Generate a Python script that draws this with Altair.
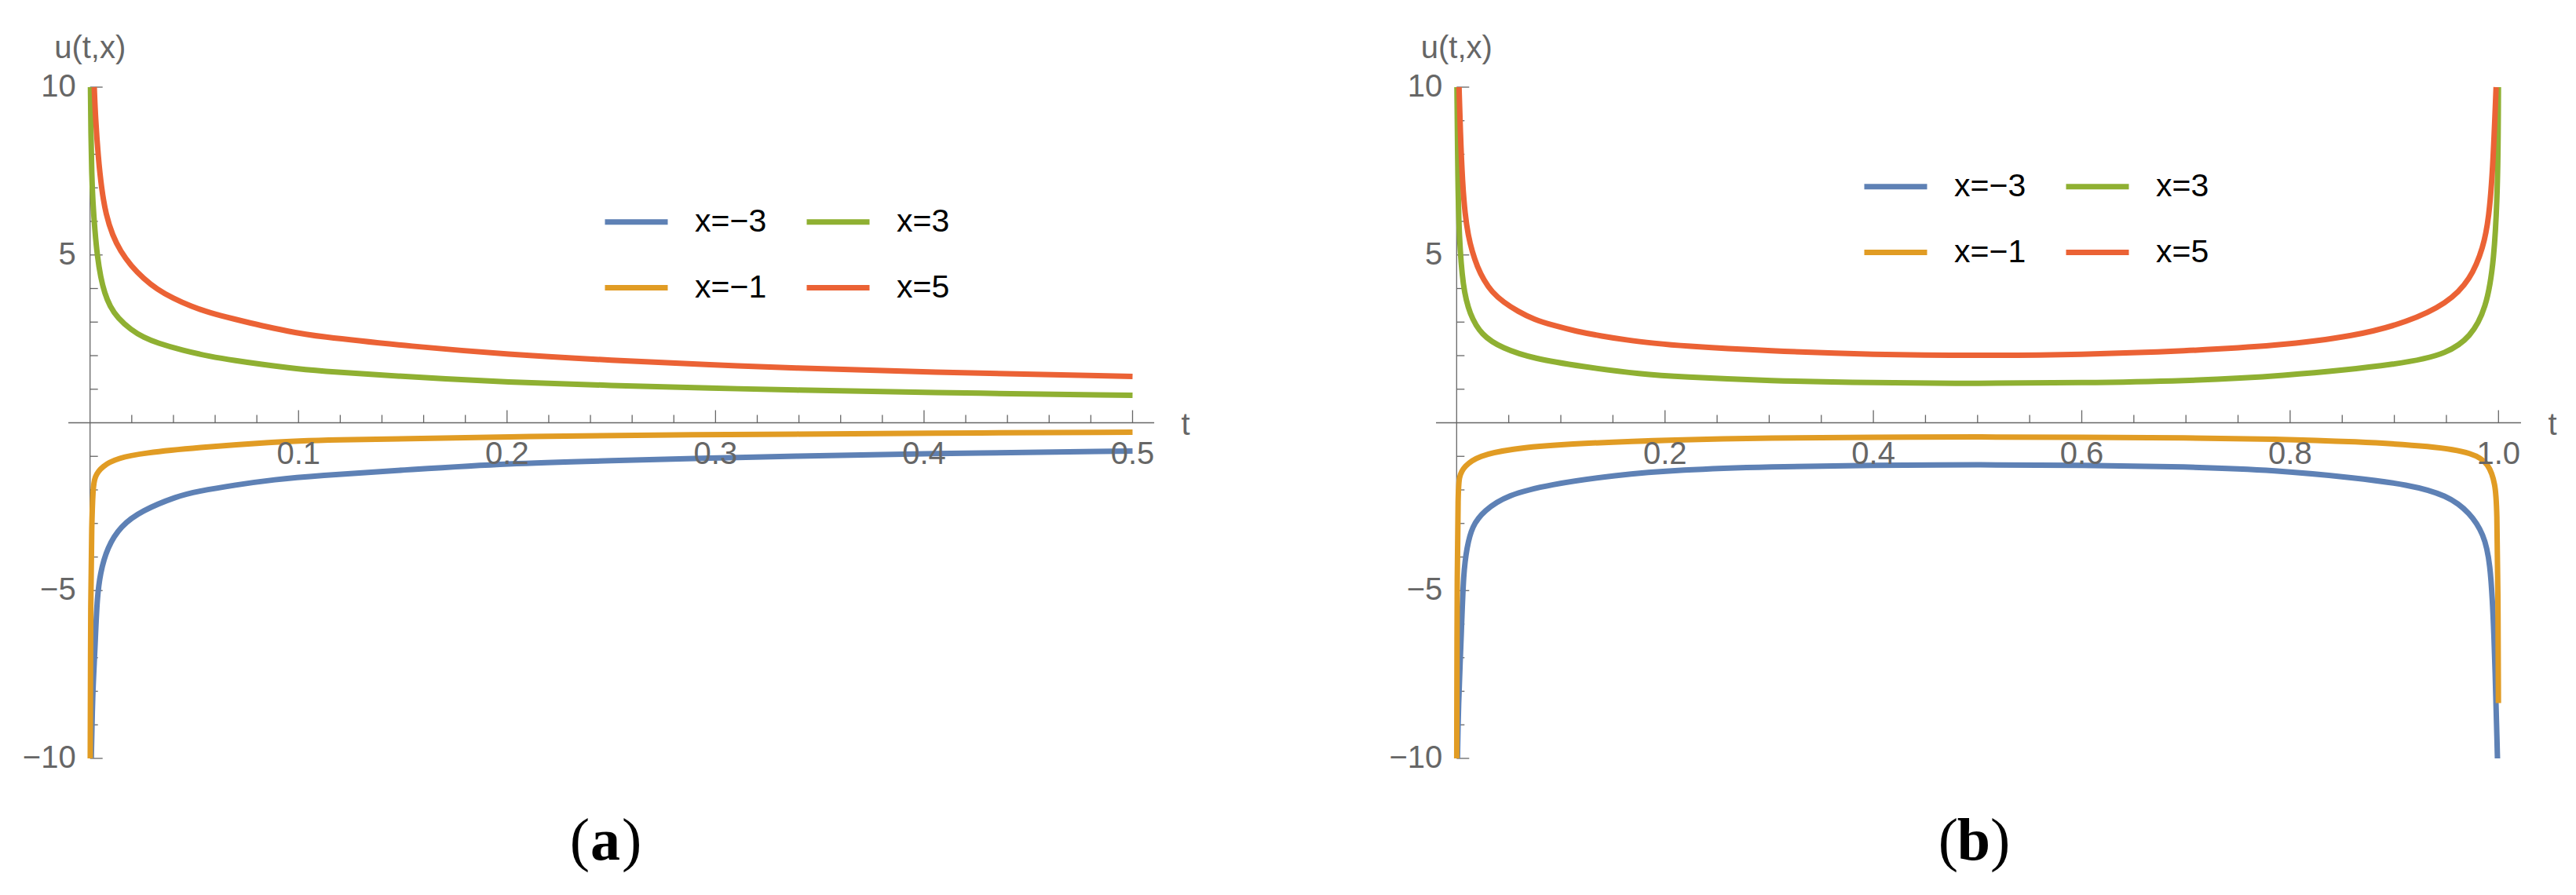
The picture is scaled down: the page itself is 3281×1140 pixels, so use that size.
import altair as alt
import pandas as pd

FONT = "Liberation Sans"
SERIF = "Liberation Serif"
GREY = "#666666"

SERIES = ["x=−3", "x=3", "x=−1", "x=5"]          # legend order (row-wise, 2 columns)
COLORS = ["#5E81B5", "#8FB032", "#E19C24", "#EB6235"]

# ---------------- panel (a): 0 <= t <= 0.5 ----------------
A_T_BLUE = [0.0006, 0.0012, 0.0023, 0.0033, 0.0048, 0.0083, 0.0146, 0.0246, 0.0422, 0.051, 0.0698, 0.0886,
            0.1075, 0.155, 0.2, 0.25, 0.3, 0.3334, 0.4, 0.5]
A_U_BLUE = [-10.0, -8.1, -6.83, -5.27, -4.49, -3.71, -3.08, -2.62, -2.18, -2.05, -1.85, -1.69,
            -1.58, -1.39, -1.21, -1.13, -1.05, -1.00, -0.92, -0.84]

A_T_ORANGE = [0.0001, 0.0003, 0.0008, 0.0014, 0.0021, 0.0058, 0.0133, 0.0258, 0.051, 0.0886, 0.1075,
              0.2, 0.3, 0.3334, 0.4, 0.5]
A_U_ORANGE = [-10.0, -5.0, -3.0, -1.99, -1.60, -1.29, -1.05, -0.90, -0.74, -0.57, -0.52,
              -0.41, -0.35, -0.34, -0.31, -0.28]

A_T_GREEN = [0.0002, 0.0004, 0.0008, 0.0014, 0.0023, 0.0035, 0.0051, 0.0070, 0.0095, 0.0133, 0.0196,
             0.0258, 0.0321, 0.0447, 0.0572, 0.0698, 0.0823, 0.0949, 0.1074,
             0.155, 0.2, 0.25, 0.3, 0.3334, 0.4, 0.5]
A_U_GREEN = [10.0, 8.70, 7.37, 6.51, 5.74, 4.95, 4.33, 3.86, 3.47, 3.12, 2.77,
             2.54, 2.38, 2.15, 1.98, 1.85, 1.74, 1.64, 1.55,
             1.36, 1.21, 1.11, 1.03, 0.98, 0.90, 0.82]

A_T_RED = [0.0020, 0.0026, 0.0039, 0.0055, 0.0076, 0.0108, 0.0146, 0.0196, 0.0258, 0.0321, 0.0397,
           0.0484, 0.0572, 0.0698, 0.0823, 0.0949, 0.1074,
           0.155, 0.2, 0.25, 0.3, 0.3334, 0.4, 0.5]
A_U_RED = [10.0, 9.09, 7.92, 6.98, 6.20, 5.58, 5.11, 4.68, 4.29, 3.98, 3.71,
           3.47, 3.28, 3.08, 2.89, 2.73, 2.58,
           2.27, 2.04, 1.86, 1.72, 1.64, 1.51, 1.38]

# ---------------- panel (b): 0 <= t <= 1 ----------------
B_T_BLUE = [0.0008, 0.0015, 0.0048, 0.0065, 0.0098, 0.0148, 0.0261, 0.0487, 0.0889, 0.1518, 0.2145,
            0.3, 0.4, 0.5, 0.6, 0.7, 0.787, 0.8627, 0.913, 0.9506, 0.973, 0.9857, 0.992, 0.9957, 0.9990]
B_U_BLUE = [-10.0, -8.55, -6.05, -4.49, -3.71, -3.08, -2.62, -2.15, -1.84, -1.56, -1.40,
            -1.31, -1.26, -1.25, -1.26, -1.31, -1.41, -1.64, -1.84, -2.15, -2.69, -3.32, -4.10, -6.05, -10.0]

B_T_ORANGE = [0.0001, 0.0005, 0.0015, 0.0020, 0.0073, 0.0211, 0.0513, 0.1015, 0.2145,
              0.3, 0.4, 0.5, 0.6, 0.7, 0.787, 0.8627, 0.938, 0.976, 0.9907, 0.997, 0.9985, 0.9995, 0.9999]
B_U_ORANGE = [-10.0, -4.0, -2.15, -1.60, -1.29, -0.98, -0.78, -0.63, -0.50,
              -0.45, -0.43, -0.42, -0.43, -0.45, -0.48, -0.56, -0.70, -0.90, -1.21, -1.84, -2.5, -5.0, -8.35]

B_T_GREEN = [0.0003, 0.0012, 0.0023, 0.0060, 0.0124, 0.0237, 0.0437, 0.0739, 0.1190, 0.1790, 0.2145,
             0.3, 0.4, 0.5, 0.6, 0.7, 0.787, 0.913, 0.9506, 0.973, 0.9882, 0.9958, 0.9995, 0.9999]
B_U_GREEN = [10.0, 7.14, 5.58, 4.02, 3.24, 2.61, 2.22, 1.91, 1.68, 1.44, 1.37,
             1.25, 1.19, 1.17, 1.19, 1.25, 1.37, 1.76, 2.07, 2.54, 3.40, 4.80, 7.14, 10.0]

B_T_RED = [0.0023, 0.0035, 0.0056, 0.0081, 0.0111, 0.0148, 0.0199, 0.0261, 0.0337, 0.0450, 0.0588,
           0.0739, 0.0940, 0.1141, 0.1392, 0.1643, 0.1895, 0.2145,
           0.3, 0.4, 0.5, 0.6, 0.7, 0.787, 0.8627, 0.913, 0.9506, 0.973, 0.9857, 0.9907, 0.9945, 0.9977]
B_U_RED = [10.0, 8.70, 7.14, 6.20, 5.58, 5.11, 4.64, 4.25, 3.90, 3.59, 3.32,
           3.08, 2.89, 2.73, 2.58, 2.46, 2.37, 2.29,
           2.14, 2.03, 2.00, 2.03, 2.14, 2.29, 2.58, 3.00, 3.55, 4.25, 5.25, 6.10, 7.50, 10.0]

# ---------------- ticks ----------------
A_MAJOR_T = [0.1, 0.2, 0.3, 0.4, 0.5]
A_MAJOR_LBL = ["0.1", "0.2", "0.3", "0.4", "0.5"]
A_MINOR_T = [0.02, 0.04, 0.06, 0.08, 0.12, 0.14, 0.16, 0.18, 0.22, 0.24, 0.26, 0.28,
             0.32, 0.34, 0.36, 0.38, 0.42, 0.44, 0.46, 0.48]
B_MAJOR_T = [0.2, 0.4, 0.6, 0.8, 1.0]
B_MAJOR_LBL = ["0.2", "0.4", "0.6", "0.8", "1.0"]
B_MINOR_T = [0.05, 0.1, 0.15, 0.25, 0.3, 0.35, 0.45, 0.5, 0.55, 0.65, 0.7, 0.75, 0.85, 0.9, 0.95]
Y_MAJOR = [-10, -5, 5, 10]
Y_MAJOR_LBL = ["−10", "−5", "5", "10"]
Y_MINOR = [-9, -8, -7, -6, -4, -3, -2, -1, 1, 2, 3, 4, 6, 7, 8, 9]

A_XAXIS = [-0.0104, 0.5104]
B_XAXIS = [-0.0198, 1.0216]
Y_AXIS = [-10, 10]

# view windows (data units covered by each panel's plot area)
A_XDOM = [-0.040179, 0.569852]
B_XDOM = [-0.156217, 1.064582]
Y_DOM = [-13.7895, 12.4094]
PW, PH = 1620, 1120


def curves(parts):
    rows = []
    for name, ts, us in parts:
        for t, u in zip(ts, us):
            rows.append({"t": t, "u": u, "s": name})
    return pd.DataFrame(rows)


# rows in drawing order: blue, orange, green, red (red on top)
A_DF = curves([("x=−3", A_T_BLUE, A_U_BLUE), ("x=−1", A_T_ORANGE, A_U_ORANGE),
               ("x=3", A_T_GREEN, A_U_GREEN), ("x=5", A_T_RED, A_U_RED)])
B_DF = curves([("x=−3", B_T_BLUE, B_U_BLUE), ("x=−1", B_T_ORANGE, B_U_ORANGE),
               ("x=3", B_T_GREEN, B_U_GREEN), ("x=5", B_T_RED, B_U_RED)])


def panel(df, xdom, major_t, major_lbl, minor_t, xaxis, leg_x, leg_y, letter, cap_x):
    xs = alt.Scale(domain=xdom, nice=False, zero=False)
    ys = alt.Scale(domain=Y_DOM, nice=False, zero=False)
    X = lambda f: alt.X(f, scale=xs, axis=None)
    Y = lambda f: alt.Y(f, scale=ys, axis=None)

    ax = pd.DataFrame({"x1": [xaxis[0]], "x2": [xaxis[1]], "y1": [Y_AXIS[0]], "y2": [Y_AXIS[1]], "z": [0.0]})
    xmaj = pd.DataFrame({"t": major_t, "lbl": major_lbl, "z": 0.0})
    xmin = pd.DataFrame({"t": minor_t, "z": 0.0})
    ymaj = pd.DataFrame({"v": Y_MAJOR, "lbl": Y_MAJOR_LBL, "z": 0.0})
    ymin = pd.DataFrame({"v": Y_MINOR, "z": 0.0})

    base_ax = alt.Chart(ax)
    x_line = base_ax.mark_rule(color=GREY, strokeWidth=1.3).encode(x=X("x1:Q"), x2="x2:Q", y=Y("z:Q"))
    y_line = base_ax.mark_rule(color=GREY, strokeWidth=1.3).encode(y=Y("y1:Q"), y2="y2:Q", x=X("z:Q"))

    xt_major = alt.Chart(xmaj).mark_rule(color=GREY, strokeWidth=1.3, y2Offset=-16).encode(
        x=X("t:Q"), y=Y("z:Q"), y2="z:Q")
    xt_minor = alt.Chart(xmin).mark_rule(color=GREY, strokeWidth=1.3, y2Offset=-10).encode(
        x=X("t:Q"), y=Y("z:Q"), y2="z:Q")
    yt_major = alt.Chart(ymaj).mark_rule(color=GREY, strokeWidth=1.3, x2Offset=16).encode(
        y=Y("v:Q"), x=X("z:Q"), x2="z:Q")
    yt_minor = alt.Chart(ymin).mark_rule(color=GREY, strokeWidth=1.3, x2Offset=10).encode(
        y=Y("v:Q"), x=X("z:Q"), x2="z:Q")

    lines = alt.Chart(df).mark_line(strokeWidth=7, interpolate="basis").encode(
        x=X("t:Q"), y=Y("u:Q"),
        color=alt.Color("s:N", scale=alt.Scale(domain=SERIES, range=COLORS),
                        legend=alt.Legend(title=None, orient="none", legendX=leg_x, legendY=leg_y,
                                          columns=2, direction="horizontal", values=SERIES,
                                          symbolType="stroke", symbolSize=6400,
                                          symbolStrokeWidth=7, labelFont=FONT, labelFontSize=41,
                                          labelColor="black", labelOffset=31, columnPadding=36,
                                          rowPadding=20, padding=0, labelLimit=400)),
    )

    x_lbl = alt.Chart(xmaj).mark_text(font=FONT, fontSize=40, color=GREY, baseline="middle",
                                      align="center", yOffset=40).encode(
        x=X("t:Q"), y=Y("z:Q"), text="lbl:N")
    y_lbl = alt.Chart(ymaj).mark_text(font=FONT, fontSize=40, color=GREY, baseline="middle",
                                      align="right", xOffset=-18).encode(
        x=X("z:Q"), y=Y("v:Q"), text="lbl:N")

    u_title = base_ax.mark_text(font=FONT, fontSize=40, color=GREY, baseline="alphabetic",
                                align="center", yOffset=-37, text="u(t,x)").encode(
        x=X("z:Q"), y=Y("y2:Q"))
    t_title = base_ax.mark_text(font=FONT, fontSize=40, color=GREY, baseline="middle",
                                align="center", xOffset=40, yOffset=3, text="t").encode(
        x=X("x2:Q"), y=Y("z:Q"))

    cap_y = 1087
    cap_l = base_ax.mark_text(font=SERIF, fontSize=76, color="black", baseline="alphabetic",
                              align="right", text="(").encode(x=alt.value(cap_x - 20), y=alt.value(cap_y))
    cap_m = base_ax.mark_text(font=SERIF, fontSize=76, fontWeight="bold", color="black",
                              baseline="alphabetic", align="center", text=letter).encode(
        x=alt.value(cap_x), y=alt.value(cap_y))
    cap_r = base_ax.mark_text(font=SERIF, fontSize=76, color="black", baseline="alphabetic",
                              align="left", text=")").encode(x=alt.value(cap_x + 21), y=alt.value(cap_y))

    return alt.layer(x_line, y_line, xt_minor, xt_major, yt_minor, yt_major, lines,
                     x_lbl, y_lbl, u_title, t_title, cap_l, cap_m, cap_r).properties(width=PW, height=PH)


left = panel(A_DF, A_XDOM, A_MAJOR_T, A_MAJOR_LBL, A_MINOR_T, A_XAXIS, 759, 231, "a", 763)
right = panel(B_DF, B_XDOM, B_MAJOR_T, B_MAJOR_LBL, B_MINOR_T, B_XAXIS, 723, 186, "b", 866)

chart = alt.hconcat(left, right, spacing=20).resolve_scale(
    x="independent", y="independent", color="independent").resolve_legend(color="independent").properties(
    padding=0, background="white").configure_view(stroke=None).configure_axis(disable=True)

chart.save("out.html", embed_options={"renderer": "svg", "actions": False})
